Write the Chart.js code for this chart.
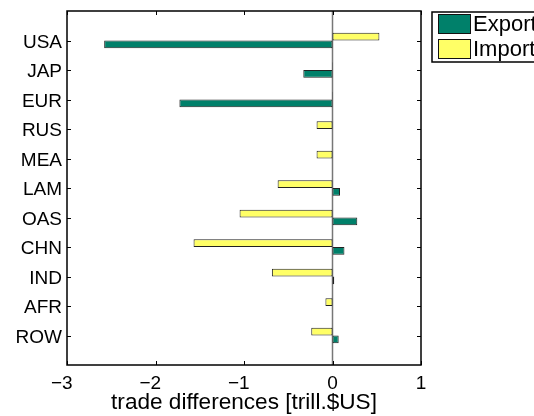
<!DOCTYPE html>
<html>
<head>
<meta charset="utf-8">
<script src="https://cdn.jsdelivr.net/npm/chart.js@4"></script>
<style>
  html, body { margin: 0; padding: 0; background: #fff; overflow: hidden; }
  #wrap { width: 534px; height: 416px; position: relative; }
</style>
</head>
<body>
<div id="wrap"><canvas id="tradeChart"></canvas></div>
<script>
const regions = ['USA', 'JAP', 'EUR', 'RUS', 'MEA', 'LAM', 'OAS', 'CHN', 'IND', 'AFR', 'ROW'];
const exportDiff = [-2.58, -0.33, -1.73, 0, 0, 0.085, 0.28, 0.135, 0.02, 0, 0.07];
const importDiff = [0.53, 0.005, 0.005, -0.18, -0.18, -0.62, -1.05, -1.57, -0.685, -0.08, -0.24];
const xTicks = [-3, -2, -1, 0, 1];

const FONT = "'Liberation Sans', Arial, Helvetica, sans-serif";
const GREEN = '#00806a';
const YELLOW = '#ffff66';

// pad one empty slot at both ends so the axis has a full step of space there
const labels = ['', ...regions, ''];
const pad = arr => [null, ...arr, null];

const frame = {
  id: 'frame',
  beforeDatasetsDraw(chart) {
    const { ctx, chartArea: a, scales } = chart;
    const x0 = scales.x.getPixelForValue(0);
    ctx.save();
    ctx.strokeStyle = '#777';
    ctx.lineWidth = 1.5;
    ctx.beginPath();
    ctx.moveTo(x0, a.top);
    ctx.lineTo(x0, a.bottom);
    ctx.stroke();
    ctx.restore();
  },
  afterDraw(chart) {
    const { ctx, chartArea: a, scales } = chart;
    ctx.save();
    ctx.strokeStyle = '#000';
    ctx.lineWidth = 1.5;
    ctx.strokeRect(a.left, a.top, a.right - a.left, a.bottom - a.top);
    ctx.lineWidth = 1;
    ctx.beginPath();
    xTicks.forEach(v => {
      const px = Math.round(scales.x.getPixelForValue(v)) + 0.5;
      ctx.moveTo(px, a.top); ctx.lineTo(px, a.top + 4);
      ctx.moveTo(px, a.bottom); ctx.lineTo(px, a.bottom - 4);
    });
    regions.forEach((r, i) => {
      const py = Math.round(scales.y.getPixelForValue(i + 1)) + 0.5;
      ctx.moveTo(a.left, py); ctx.lineTo(a.left + 4, py);
      ctx.moveTo(a.right, py); ctx.lineTo(a.right - 4, py);
    });
    ctx.stroke();

    // legend box, running off the right edge like the original
    const lx = 432, ly = 12;
    ctx.lineWidth = 1.5;
    ctx.fillStyle = '#fff';
    ctx.fillRect(lx, ly, 140, 50);
    ctx.strokeRect(lx, ly, 140, 50);
    const items = [chart.data.datasets[1], chart.data.datasets[0]];
    ctx.font = '22px ' + FONT;
    ctx.textBaseline = 'middle';
    items.forEach((ds, i) => {
      const sy = ly + 2 + i * 25;
      ctx.fillStyle = ds.backgroundColor;
      ctx.fillRect(lx + 6, sy, 33, 20);
      ctx.lineWidth = 1;
      ctx.strokeStyle = '#111';
      ctx.strokeRect(lx + 6.5, sy + 0.5, 32, 19);
      ctx.fillStyle = '#000';
      ctx.fillText(ds.label, lx + 41, sy + 11);
    });
    ctx.restore();
  }
};

new Chart(document.getElementById('tradeChart'), {
  type: 'bar',
  data: {
    labels: labels,
    datasets: [
      {
        label: 'Import',
        data: pad(importDiff),
        backgroundColor: YELLOW,
        borderColor: '#222',
        borderWidth: 1,
        borderSkipped: false
      },
      {
        label: 'Export',
        data: pad(exportDiff),
        backgroundColor: GREEN,
        borderColor: '#222',
        borderWidth: 1,
        borderSkipped: false
      }
    ]
  },
  options: {
    indexAxis: 'y',
    responsive: true,
    maintainAspectRatio: false,
    animation: false,
    categoryPercentage: 0.52,
    barPercentage: 1,
    layout: { padding: { top: 11, right: 113, left: 0, bottom: 0 } },
    scales: {
      x: {
        type: 'linear',
        min: -3,
        max: 1,
        afterBuildTicks(scale) { scale.ticks = xTicks.map(v => ({ value: v })); },
        afterFit(scale) {
          scale.height = 51;
          scale.paddingLeft = 0;
          scale.paddingRight = 0;
        },
        grid: { display: false, drawTicks: false },
        border: { display: false },
        ticks: {
          padding: 7,
          color: '#000',
          font: { family: FONT, size: 19 },
          // trailing spaces keep the digit on the tick and let the minus hang left
          callback: v => (v < 0 ? '\u2212' + Math.abs(v) + '  ' : String(v))
        },
        title: {
          display: true,
          text: 'trade differences [trill.$US]',
          color: '#000',
          font: { family: FONT, size: 22.6 },
          padding: { top: 0, bottom: 0 }
        }
      },
      y: {
        offset: false,
        afterFit(scale) {
          scale.width = 67;
          scale.paddingTop = 0;
          scale.paddingBottom = 0;
        },
        grid: { display: false, drawTicks: false },
        border: { display: false },
        ticks: {
          padding: 5,
          labelOffset: 2,
          color: '#000',
          autoSkip: false,
          font: { family: FONT, size: 19 }
        }
      }
    },
    plugins: {
      legend: { display: false },
      tooltip: { enabled: false }
    }
  },
  plugins: [frame]
});
</script>
</body>
</html>
